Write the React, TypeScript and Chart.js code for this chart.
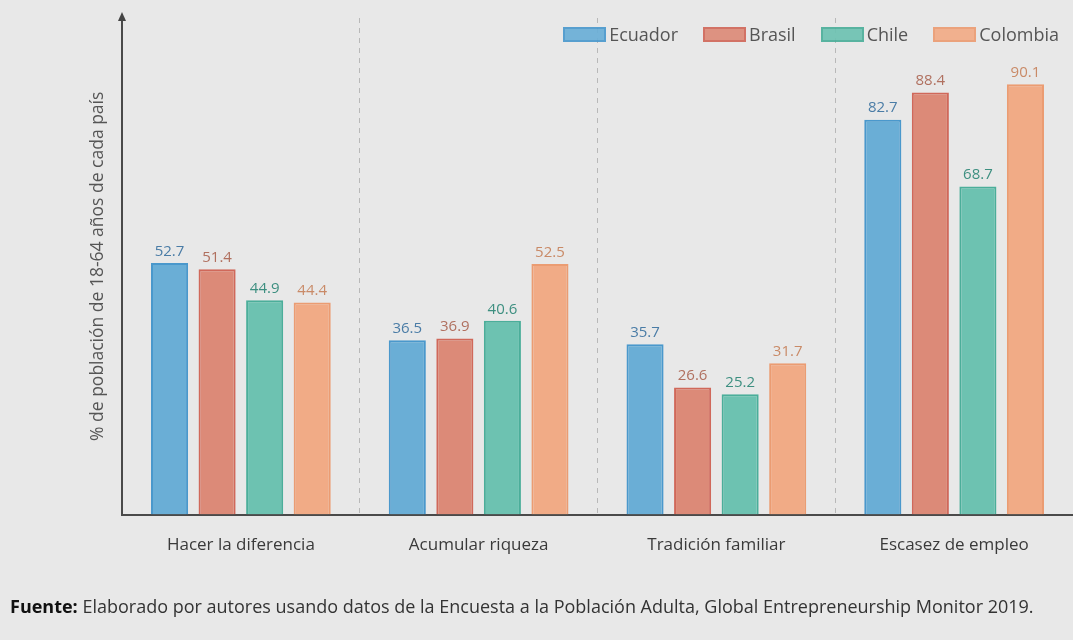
import React, { useEffect, useRef } from "react";
import { Chart, registerables } from "chart.js";

Chart.register(...registerables);

const categories = ["Hacer la diferencia", "Acumular riqueza", "Tradición familiar", "Escasez de empleo"];
const countries = ["Ecuador", "Brasil", "Chile", "Colombia"];
const ecuador = [52.7, 36.5, 35.7, 82.7];
const brasil = [51.4, 36.9, 26.6, 88.4];
const chile = [44.9, 40.6, 25.2, 68.7];
const colombia = [44.4, 52.5, 31.7, 90.1];
const fills = ["#6aaed6", "#dc8a78", "#6dc2b1", "#f1ab86"];
const borders = ["#4a98cc", "#d0685a", "#4bae9a", "#eb9c72"];
const labelColors = ["#4a7ca6", "#b0705f", "#3d8f80", "#c98a67"];
const yTitle = "% de población de 18-64 años de cada país";
const sourceBold = "Fuente:";
const sourceText =
  " Elaborado por autores usando datos de la Encuesta a la Población Adulta, Global Entrepreneurship Monitor 2019.";

const FONT = '"Open Sans", "Noto Sans", sans-serif';

const valueLabels = {
  id: "valueLabels",
  afterDatasetsDraw(chart: any) {
    const ctx = chart.ctx;
    chart.data.datasets.forEach((ds: any, i: number) => {
      const meta = chart.getDatasetMeta(i);
      meta.data.forEach((bar: any, j: number) => {
        ctx.save();
        ctx.font = `15px ${FONT}`;
        ctx.fillStyle = labelColors[i];
        ctx.textAlign = "center";
        ctx.textBaseline = "bottom";
        ctx.fillText(String(ds.data[j]), bar.x, bar.y - 4);
        ctx.restore();
      });
    });
  },
};

const axisArrow = {
  id: "axisArrow",
  afterDraw(chart: any) {
    const { ctx, chartArea } = chart;
    const x = chartArea.left;
    const y = chartArea.top;
    ctx.save();
    ctx.fillStyle = "#444";
    ctx.beginPath();
    ctx.moveTo(x, y - 6);
    ctx.lineTo(x - 4, y + 3);
    ctx.lineTo(x + 4, y + 3);
    ctx.closePath();
    ctx.fill();
    ctx.restore();
  },
};

export default function App() {
  const ref = useRef<HTMLCanvasElement | null>(null);

  useEffect(() => {
    if (!ref.current) return;
    const series = [ecuador, brasil, chile, colombia];
    const chart = new Chart(ref.current, {
      type: "bar",
      data: {
        labels: categories,
        datasets: countries.map((c, i) => ({
          label: c,
          data: series[i],
          backgroundColor: fills[i],
          borderColor: borders[i],
          borderWidth: 2,
          categoryPercentage: 0.8,
          barPercentage: 0.78,
        })),
      },
      options: {
        animation: false,
        responsive: true,
        maintainAspectRatio: false,
        layout: { padding: { left: 88, right: 0, top: 18, bottom: 35 } },
        plugins: {
          legend: { display: false },
          tooltip: { enabled: false },
        },
        scales: {
          x: {
            grid: {
              display: true,
              offset: true,
              drawTicks: false,
              lineWidth: 1,
              color: (ctx: any) =>
                ctx.index === 0 || ctx.index === categories.length ? "rgba(0,0,0,0)" : "#b8b8b8",
            },
            border: { display: true, color: "#4a4a4a", width: 2, dash: [5, 5] },
            ticks: {
              color: "#3a3a3a",
              font: { family: FONT, size: 17 },
              padding: 20,
            },
          },
          y: {
            min: 0,
            max: 104,
            grid: { display: false, drawTicks: false },
            border: { display: true, color: "#4a4a4a", width: 2 },
            ticks: { display: false },
            title: {
              display: true,
              text: yTitle,
              color: "#555",
              font: { family: FONT, size: 17.5 },
              padding: { top: 0, bottom: 13 },
            },
          },
        },
      },
      plugins: [valueLabels, axisArrow],
    });
    return () => chart.destroy();
  }, []);

  const legendItem = (i: number) => (
    <div key={countries[i]} style={{ display: "flex", alignItems: "center", marginLeft: i === 0 ? 0 : 25 }}>
      <span
        style={{
          display: "inline-block",
          width: 39,
          height: 11,
          background: fills[i],
          opacity: 0.92,
          border: `2px solid ${borders[i]}`,
          marginRight: 3,
        }}
      />
      <span style={{ color: "#555", fontSize: 18, fontFamily: FONT }}>{countries[i]}</span>
    </div>
  );

  return (
    <div
      style={{
        position: "fixed",
        left: 0,
        top: 0,
        width: 1073,
        height: 640,
        background: "#e8e8e8",
        overflow: "hidden",
      }}
    >
      <div style={{ position: "absolute", left: 0, top: 0, width: 1073, height: 610 }}>
        <canvas ref={ref} />
      </div>
      <div
        style={{
          position: "absolute",
          top: 22,
          right: 14,
          display: "flex",
          alignItems: "center",
        }}
      >
        {countries.map((_, i) => legendItem(i))}
      </div>
      <div
        style={{
          position: "absolute",
          left: 10,
          top: 594,
          fontFamily: FONT,
          fontSize: 18,
          color: "#333",
          whiteSpace: "nowrap",
        }}
      >
        <b style={{ color: "#111" }}>{sourceBold}</b>
        {sourceText}
      </div>
    </div>
  );
}
